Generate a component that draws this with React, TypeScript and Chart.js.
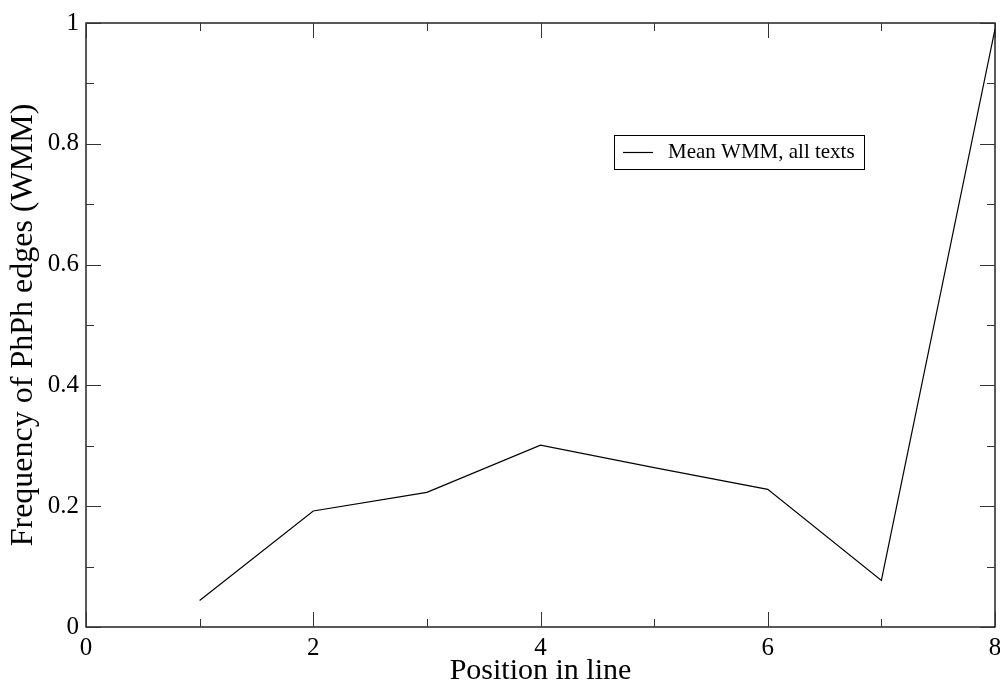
import React, { useEffect, useRef } from "react";
import { Chart, registerables } from "chart.js";

Chart.register(...registerables);

const positions = [1, 2, 3, 4, 5, 6, 7, 8];
const meanWMM = [0.044, 0.192, 0.223, 0.301, 0.264, 0.228, 0.077, 0.99];
const seriesLabel = "Mean WMM, all texts";
const xTitle = "Position in line";
const yTitle = "Frequency of PhPh edges (WMM)";
const xMajorTicks = [0, 2, 4, 6, 8];
const xMinorTicks = [1, 3, 5, 7];
const yMajorTicks = [0, 0.2, 0.4, 0.6, 0.8, 1];
const yMinorTicks = [0.1, 0.3, 0.5, 0.7, 0.9];

const SERIF = "'Liberation Serif', 'Times New Roman', serif";

const framePlugin = {
  id: "frameTicks",
  afterDatasetsDraw(chart: any) {
    const { ctx, chartArea } = chart;
    const { left, right, top, bottom } = chartArea;
    const xs = chart.scales.x;
    const ys = chart.scales.y;
    ctx.save();
    ctx.strokeStyle = "#000";
    ctx.lineWidth = 1.3;
    ctx.strokeRect(left, top, right - left, bottom - top);
    ctx.lineWidth = 1;
    ctx.strokeStyle = "#333";
    const drawX = (vals: number[], len: number) => {
      vals.forEach((v) => {
        const px = Math.round(xs.getPixelForValue(v)) + 0.5;
        ctx.beginPath();
        ctx.moveTo(px, bottom);
        ctx.lineTo(px, bottom - len);
        ctx.moveTo(px, top);
        ctx.lineTo(px, top + len);
        ctx.stroke();
      });
    };
    const drawY = (vals: number[], len: number) => {
      vals.forEach((v) => {
        const py = Math.round(ys.getPixelForValue(v)) + 0.5;
        ctx.beginPath();
        ctx.moveTo(left, py);
        ctx.lineTo(left + len, py);
        ctx.moveTo(right, py);
        ctx.lineTo(right - len, py);
        ctx.stroke();
      });
    };
    drawX(xMajorTicks, 15);
    drawX(xMinorTicks, 8);
    drawY(yMajorTicks, 15);
    drawY(yMinorTicks, 8);

    // legend box
    const bx = left + 528;
    const by = top + 112;
    const bw = 250;
    const bh = 34;
    ctx.fillStyle = "#fff";
    ctx.fillRect(bx, by, bw, bh);
    ctx.strokeStyle = "#000";
    ctx.lineWidth = 1;
    ctx.strokeRect(bx + 0.5, by + 0.5, bw, bh);
    const ds = chart.data.datasets[0];
    ctx.strokeStyle = ds.borderColor;
    ctx.lineWidth = 1.2;
    ctx.beginPath();
    ctx.moveTo(bx + 9, by + 17.5);
    ctx.lineTo(bx + 39, by + 17.5);
    ctx.stroke();
    ctx.fillStyle = "#000";
    ctx.font = `21px ${SERIF}`;
    ctx.textBaseline = "alphabetic";
    ctx.textAlign = "left";
    ctx.fillText(ds.label, bx + 54, by + 23);
    ctx.restore();
  },
};

export default function App() {
  const ref = useRef<HTMLCanvasElement | null>(null);
  useEffect(() => {
    document.body.style.margin = "0";
    const canvas = ref.current;
    if (!canvas) return;
    const chart = new Chart(canvas, {
      type: "line",
      data: {
        datasets: [
          {
            label: seriesLabel,
            data: positions.map((p, i) => ({ x: p, y: meanWMM[i] })),
            borderColor: "#000",
            borderWidth: 1.2,
            pointRadius: 0,
            fill: false,
            tension: 0,
          },
        ],
      },
      options: {
        responsive: false,
        animation: false,
        layout: { padding: { top: 23, right: 5, left: 0, bottom: 0 } },
        plugins: {
          legend: { display: false },
          tooltip: { enabled: false },
        },
        scales: {
          x: {
            type: "linear",
            min: 0,
            max: 8,
            grid: { display: false, drawTicks: false },
            border: { display: false },
            ticks: {
              stepSize: 2,
              padding: 6,
              color: "#000",
              font: { family: SERIF, size: 25 },
              maxRotation: 0,
              autoSkip: false,
            },
            title: {
              display: true,
              text: xTitle,
              color: "#000",
              font: { family: SERIF, size: 30, lineHeight: 0.87 },
              padding: { top: 0, bottom: 0 },
            },
            afterFit: (s: any) => {
              s.height = 57;
              s.paddingLeft = 0;
              s.paddingRight = 0;
            },
          },
          y: {
            type: "linear",
            min: 0,
            max: 1,
            grid: { display: false, drawTicks: false },
            border: { display: false },
            ticks: {
              stepSize: 0.2,
              padding: 7,
              color: "#000",
              font: { family: SERIF, size: 25 },
              callback: (v: any) => String(Math.round(Number(v) * 10) / 10),
            },
            title: {
              display: true,
              text: yTitle,
              color: "#000",
              font: { family: SERIF, size: 32, lineHeight: 1.2 },
              padding: { top: 4, bottom: 0 },
            },
            afterFit: (s: any) => {
              s.width = 86;
              s.paddingTop = 0;
              s.paddingBottom = 0;
            },
          },
        },
      },
      plugins: [framePlugin],
    });
    return () => chart.destroy();
  }, []);
  return (
    <div style={{ width: 1000, height: 684 }}>
      <canvas ref={ref} width={1000} height={684} style={{ display: "block" }} />
    </div>
  );
}
